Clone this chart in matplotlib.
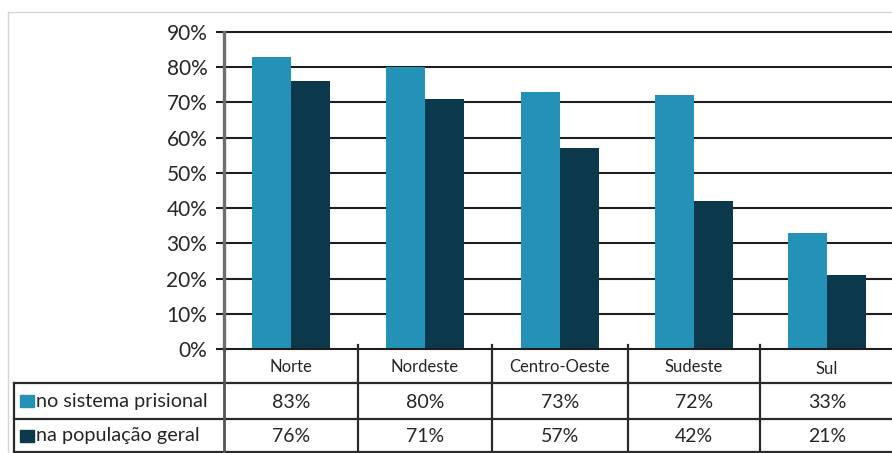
import matplotlib
matplotlib.use("Agg")
import matplotlib.pyplot as plt
from matplotlib.lines import Line2D
from matplotlib.patches import Rectangle

categories = ["Norte", "Nordeste", "Centro-Oeste", "Sudeste", "Sul"]
prisional = [83, 80, 73, 72, 33]
geral = [76, 71, 57, 42, 21]
series_labels = ["no sistema prisional", "na população geral"]
yticks = [0, 10, 20, 30, 40, 50, 60, 70, 80, 90]

teal = "#2492b7"
dark = "#0b394b"
txt = "#262626"

W, H = 892, 453
plt.rcParams['font.family'] = ['Lato', 'DejaVu Sans']
fig = plt.figure(figsize=(W / 100, H / 100), dpi=100)

def fx(x):
    return x / W

def fy(y):
    return 1 - y / H

col_edges = [224, 358, 492, 628, 760, 894]
left, right = col_edges[0], col_edges[-1]
top, bottom = 32, 349
ax = fig.add_axes([fx(left), fy(bottom), fx(right) - fx(left), fy(top) - fy(bottom)])
ax.set_xlim(col_edges[0], col_edges[-1])
ax.set_ylim(0, 90)

for t in yticks[1:]:
    ax.axhline(t, color="#1e1e1e", lw=1.5, zorder=1, clip_on=False)

bw = 39
for i, (p, g) in enumerate(zip(prisional, geral)):
    c = (col_edges[i] + col_edges[i + 1]) / 2
    ax.bar(c - bw / 2, p, width=bw, color=teal, zorder=2)
    ax.bar(c + bw / 2, g, width=bw, color=dark, zorder=2)

for s in ["top", "right", "bottom"]:
    ax.spines[s].set_visible(False)
ax.spines["left"].set_color("#6e6e6e")
ax.spines["left"].set_linewidth(2.4)
ax.set_xticks([])
ax.set_yticks(yticks)
ax.set_yticklabels([f"{t}%" for t in yticks], fontsize=15, color=txt)
ax.tick_params(axis="y", length=6, width=1.5, color="#1e1e1e", pad=6)
ax.axhline(0, color="#1e1e1e", lw=1.5, zorder=3, clip_on=False)

lc = "#2a2a2a"
lw = 1.6
def hline(y, x0, x1, color=lc, w=lw):
    fig.add_artist(Line2D([fx(x0), fx(x1)], [fy(y), fy(y)], color=color, lw=w))

def vline(x, y0, y1, color=lc, w=lw):
    fig.add_artist(Line2D([fx(x), fx(x)], [fy(y0), fy(y1)], color=color, lw=w))

# light frame
hline(12, 8, 892, color="#d6d6d6", w=1)
vline(8, 12, 453, color="#d6d6d6", w=1)

row_y = [349, 383, 419, 452]
hline(383, 14, 892)
hline(419, 14, 892)
hline(452, 14, 892)
vline(14, 383, 452)
vline(224, 349, 452, color="#555555", w=2)
for x in col_edges[1:-1]:
    vline(x, 345, 452)

for i, cat in enumerate(categories):
    c = (col_edges[i] + col_edges[i + 1]) / 2
    yoff = 2 if cat == "Sul" else 0
    fig.text(fx(c), fy(367 + yoff), cat, ha="center", va="center", fontsize=12, color=txt)
    fig.text(fx(c), fy(402), f"{prisional[i]}%", ha="center", va="center", fontsize=14, color=txt)
    fig.text(fx(c), fy(436), f"{geral[i]}%", ha="center", va="center", fontsize=14, color=txt)

for k, (lab, col) in enumerate(zip(series_labels, [teal, dark])):
    yc = (row_y[k + 1] + row_y[k + 2]) / 2
    fig.add_artist(Rectangle((fx(20), fy(yc + 6)), fx(14), fy(0) - fy(12),
                             transform=fig.transFigure, color=col))
    fig.text(fx(36), fy(yc + 0.5), lab, ha="left", va="center", fontsize=14.3, color=txt)

fig.savefig("out.png", dpi=100)
